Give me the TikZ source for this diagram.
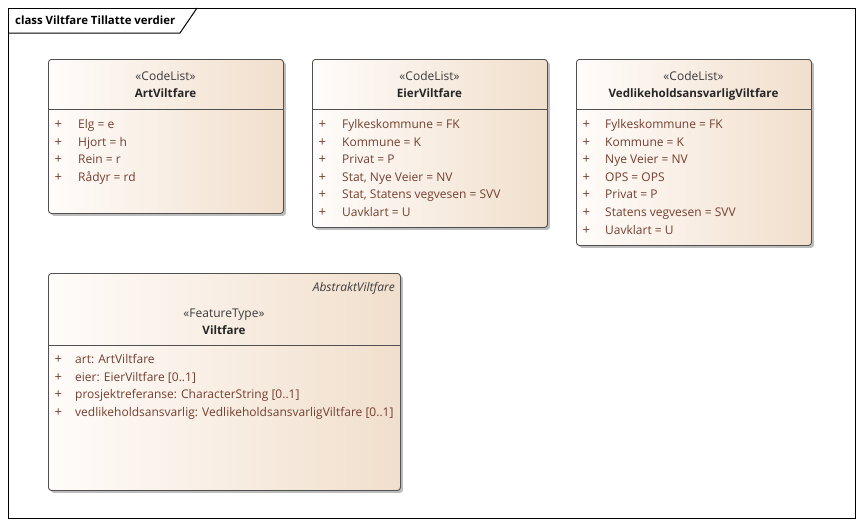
\documentclass[tikz,border=0pt]{standalone}
\usepackage{fontspec}
\setmainfont{Open Sans}
\usetikzlibrary{shadows}
\definecolor{attr}{HTML}{743F30}
\definecolor{stereo}{HTML}{3C3C3C}
\definecolor{namec}{HTML}{262626}
\definecolor{boxline}{HTML}{505050}
\definecolor{fillL}{HTML}{FFFCFA}
\definecolor{fillR}{HTML}{F1DFCC}
\definecolor{shadowc}{HTML}{BDBDBD}
\newcommand\fs{\fontsize{12}{14}\selectfont}
\newcommand\fsb{\fontsize{11.6}{14}\selectfont\bfseries}
\newcommand\attrlist[5]{% #1 prefix, #2 plus x, #3 text x, #4 first baseline y, #5 list
  \foreach \t [count=\i from 0] in {#5} {
    \node[attrtxt, font=\fontsize{13}{14}\selectfont] (#1p\i) at (#2, #4+\i*17.6) {+};
    \node[attrtxt] (#1t\i) at (#3, #4+\i*17.6) {\t};
  }}
\begin{document}
\begin{tikzpicture}[x=1pt,y=-1pt,
  umlbox/.style={draw=boxline, line width=0.9pt, rounded corners=3pt,
    left color=fillL, right color=fillR, inner sep=0pt, anchor=north west,
    drop shadow={shadow xshift=2.5pt, shadow yshift=-2.5pt, fill=shadowc, opacity=1}},
  attrtxt/.style={inner sep=0pt, anchor=base west, text=attr, font=\fs},
  stereotxt/.style={inner sep=0pt, anchor=base, text=stereo, font=\fs},
  nametxt/.style={inner sep=0pt, anchor=base, text=namec, font=\fsb},
  divider/.style={draw=boxline, line width=0.9pt}]
\useasboundingbox (0,0) rectangle (862,525);
\fill[white] (0,0) rectangle (862,525);
% frame
\draw[line width=1pt] (8,8) rectangle (855,518);
\coordinate (tabA) at (8,33);
\coordinate (tabB) at (180,33);
\coordinate (tabC) at (197,8);
\draw[line width=1pt] (tabA) -- (tabB) -- (tabC);
\node[inner sep=0pt, anchor=base west, font=\fontsize{11.4}{13}\selectfont\bfseries] (title) at (15,24) {class Viltfare Tillatte verdier};
% ArtViltfare
\node[umlbox, minimum width=235pt, minimum height=154pt] (art) at (48,59) {};
\draw[divider] (48,109) -- (283,109);
\node[stereotxt] (artst) at (165.5,80) {«CodeList»};
\node[nametxt] (artnm) at (165.5,97.5) {ArtViltfare};
\attrlist{art}{54.5}{78}{128.5}{Elg = e, Hjort = h, Rein = r, Rådyr = rd}
% EierViltfare
\node[umlbox, minimum width=235pt, minimum height=168pt] (eier) at (312,59) {};
\draw[divider] (312,109) -- (547,109);
\node[stereotxt] (eierst) at (429.5,80) {«CodeList»};
\node[nametxt] (eiernm) at (429.5,97.5) {EierViltfare};
\attrlist{eier}{318.5}{342}{128.5}{Fylkeskommune = FK, Kommune = K, Privat = P, {Stat, Nye Veier = NV}, {Stat, Statens vegvesen = SVV}, Uavklart = U}
% VedlikeholdsansvarligViltfare
\node[umlbox, minimum width=235pt, minimum height=186pt] (ved) at (576,59) {};
\draw[divider] (576,109) -- (811,109);
\node[stereotxt] (vedst) at (693.5,80) {«CodeList»};
\node[nametxt] (vednm) at (693.5,97.5) {VedlikeholdsansvarligViltfare};
\attrlist{ved}{582.5}{605}{128.5}{Fylkeskommune = FK, Kommune = K, Nye Veier = NV, OPS = OPS, Privat = P, Statens vegvesen = SVV, Uavklart = U}
% Viltfare
\node[umlbox, minimum width=352pt, minimum height=217pt] (vilt) at (48,273) {};
\draw[divider] (48,345) -- (400,345);
\node[inner sep=0pt, anchor=base east, text=stereo, font=\fs\itshape] (viltab) at (395,291) {AbstraktViltfare};
\node[stereotxt] (viltst) at (224,317) {«FeatureType»};
\node[nametxt] (viltnm) at (224,334.5) {Viltfare};
\attrlist{vilt}{54.5}{75}{363.5}{art: ArtViltfare, {eier: EierViltfare [0..1]}, {prosjektreferanse: CharacterString [0..1]}, {vedlikeholdsansvarlig: VedlikeholdsansvarligViltfare [0..1]}}
\end{tikzpicture}
\end{document}
